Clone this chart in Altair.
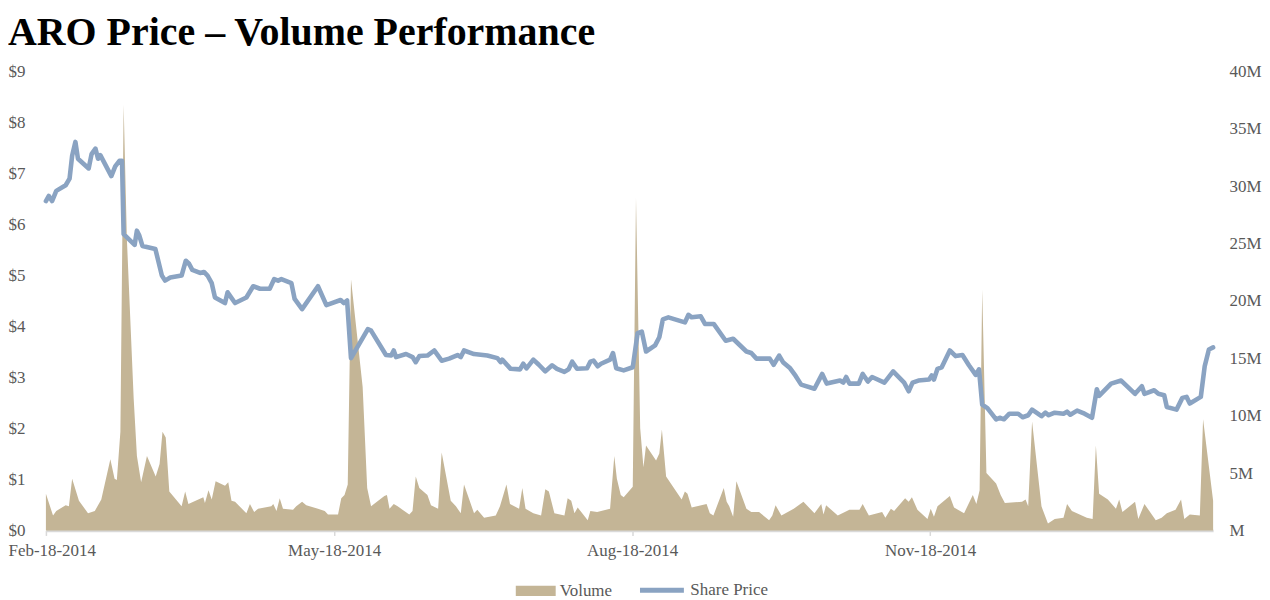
import altair as alt
import pandas as pd

START = "2014-02-18"

# Share price: days after Feb-18-2014, price in $
price_day = [0, 0.9, 1.9, 3.2, 6.1, 7.3, 8.1, 9.1, 9.9, 13.2,
             14.1, 15.3, 16.1, 16.8, 20.2, 21.4, 22.7, 23.5, 24.0, 27.4,
             28.1, 28.8, 29.8, 33.8, 35.8, 36.8, 38.4, 41.9, 43.2, 44.2,
             45.2, 47.6, 48.8, 49.9, 51.2, 52.2, 55.3, 56.1, 58.4, 61.9,
             64.0, 66.1, 69.1, 70.5, 71.7, 72.7, 75.8, 76.8, 79.1, 84.0,
             86.6, 91.0, 92.0, 93.0, 94.2, 99.4, 100.4, 105.0, 106.6, 107.4,
             108.1, 111.2, 113.2, 114.2, 115.3, 117.8, 119.9, 122.2, 124.5, 127.1,
             128.1, 129.1, 132.2, 136.3, 139.4, 140.4, 140.9, 143.5, 146.4, 147.4,
             148.4, 150.5, 152.2, 154.2, 156.3, 157.8, 160.1, 161.4, 162.5, 164.0,
             167.1, 168.1, 169.1, 170.4, 171.4, 174.2, 175.1, 176.1, 178.4, 181.2,
             182.7, 184.0, 185.3, 188.1, 189.4, 190.5, 192.2, 197.3, 198.4, 199.4,
             202.2, 203.5, 206.2, 209.9, 212.2, 216.3, 217.8, 219.4, 223.5, 224.7,
             226.4, 227.6, 229.8, 231.5, 233.2, 237.3, 239.7, 241.1, 245.2, 246.2,
             247.1, 248.1, 251.0, 252.2, 253.8, 255.1, 258.9, 261.6, 265.0, 266.4,
             267.6, 269.4, 272.7, 273.5, 274.2, 275.3, 276.6, 279.1, 280.9, 283.0,
             285.0, 287.1, 288.1, 289.1, 290.7, 293.4, 294.5, 295.8, 297.5, 300.2,
             301.6, 303.3, 304.5, 307.4, 308.6, 309.6, 311.5, 314.2, 315.3, 316.3,
             318.4, 320.7, 323.0, 324.5, 325.2, 328.9, 332.0, 336.3, 338.4, 339.2,
             342.2, 343.5, 345.3, 346.1, 349.1, 350.9, 352.2, 353.2, 356.6, 357.8,
             359.1, 360.4]
price_val = [6.46, 6.56, 6.46, 6.66, 6.77, 6.90, 7.35, 7.62, 7.29, 7.10,
             7.38, 7.49, 7.29, 7.36, 6.95, 7.14, 7.25, 7.25, 5.81, 5.60,
             5.88, 5.79, 5.58, 5.52, 5.00, 4.90, 4.96, 5.00, 5.29, 5.23,
             5.11, 5.05, 5.07, 5.00, 4.85, 4.57, 4.46, 4.67, 4.46, 4.57,
             4.79, 4.74, 4.74, 4.93, 4.90, 4.93, 4.85, 4.54, 4.34, 4.79,
             4.42, 4.52, 4.46, 4.51, 3.38, 3.95, 3.92, 3.44, 3.43, 3.53,
             3.40, 3.46, 3.40, 3.30, 3.42, 3.43, 3.53, 3.33, 3.37, 3.44,
             3.40, 3.53, 3.46, 3.43, 3.38, 3.30, 3.35, 3.17, 3.16, 3.27,
             3.18, 3.35, 3.25, 3.12, 3.24, 3.17, 3.11, 3.16, 3.31, 3.17,
             3.18, 3.31, 3.33, 3.22, 3.27, 3.35, 3.48, 3.18, 3.14, 3.20,
             3.87, 3.90, 3.51, 3.63, 3.79, 4.14, 4.18, 4.08, 4.23, 4.18,
             4.20, 4.05, 4.05, 3.72, 3.76, 3.51, 3.48, 3.37, 3.37, 3.25,
             3.43, 3.30, 3.18, 3.03, 2.86, 2.78, 3.07, 2.88, 2.94, 2.90,
             3.01, 2.88, 2.88, 3.07, 2.92, 3.01, 2.90, 3.12, 2.90, 2.73,
             2.90, 2.94, 2.96, 3.04, 2.96, 3.17, 3.20, 3.53, 3.42, 3.44,
             3.24, 3.05, 3.16, 2.47, 2.40, 2.18, 2.21, 2.18, 2.29, 2.29,
             2.22, 2.26, 2.37, 2.24, 2.31, 2.26, 2.31, 2.29, 2.33, 2.27,
             2.35, 2.29, 2.21, 2.77, 2.64, 2.88, 2.94, 2.68, 2.83, 2.68,
             2.75, 2.68, 2.65, 2.42, 2.37, 2.60, 2.62, 2.49, 2.62, 3.22,
             3.55, 3.59]

# Volume: days after Feb-18-2014, volume in millions of shares
vol_day = [0, 2.2, 3.2, 6.1, 7.1, 8.1, 10.2, 13.0, 15.1, 17.1,
           19.9, 21.2, 21.9, 23.0, 24.0, 25.0, 27.1, 28.1, 29.4, 31.2,
           33.9, 35.1, 36.0, 37.0, 38.1, 41.9, 43.0, 44.0, 48.6, 49.1,
           50.2, 51.2, 52.4, 55.3, 56.3, 57.3, 58.4, 61.9, 63.0, 64.3,
           65.5, 69.6, 70.2, 71.2, 72.2, 73.2, 76.3, 77.3, 79.1, 80.4,
           84.0, 86.1, 87.1, 90.2, 91.2, 92.2, 93.2, 94.2, 97.8, 99.2,
           100.4, 104.5, 105.3, 106.1, 107.4, 108.6, 112.2, 113.2, 114.2, 115.3,
           117.8, 118.9, 121.1, 122.2, 125.0, 126.6, 128.1, 129.1, 132.2, 133.2,
           135.3, 138.9, 140.2, 142.2, 143.3, 146.1, 147.1, 148.1, 150.5, 152.9,
           154.2, 155.3, 157.0, 160.1, 161.1, 162.2, 163.2, 164.2, 167.3, 168.1,
           170.2, 174.2, 175.5, 176.3, 177.5, 178.4, 181.2, 182.2, 183.5, 184.5,
           185.3, 188.4, 189.4, 190.2, 191.5, 196.3, 197.3, 198.1, 199.4, 204.0,
           205.0, 206.1, 209.3, 210.2, 211.0, 212.2, 213.2, 216.3, 217.8, 220.2,
           223.3, 224.3, 225.3, 227.1, 230.9, 233.9, 237.3, 239.4, 240.1, 240.9,
           244.5, 248.1, 251.2, 252.2, 254.1, 258.2, 259.2, 260.9, 261.9, 265.3,
           266.4, 267.4, 269.1, 272.2, 273.2, 274.2, 275.3, 279.1, 280.4, 283.5,
           286.2, 287.3, 288.3, 289.1, 290.4, 293.4, 294.8, 296.1, 301.4, 302.5,
           303.3, 304.5, 307.4, 309.4, 311.5, 314.2, 315.3, 316.8, 321.4, 323.2,
           324.2, 325.2, 327.9, 330.4, 331.4, 332.4, 336.3, 337.3, 339.2, 342.7,
           344.5, 346.1, 348.8, 350.5, 351.5, 353.2, 356.3, 357.3, 360.4]
vol_val = [3.2, 1.3, 1.7, 2.2, 2.1, 4.5, 2.6, 1.5, 1.7, 2.7,
           6.2, 4.5, 4.4, 8.6, 37.1, 25.4, 11.5, 6.5, 4.2, 6.5,
           4.7, 5.8, 8.6, 8.1, 3.4, 2.1, 3.4, 2.3, 2.9, 2.4,
           3.5, 2.7, 4.3, 3.9, 4.2, 2.6, 2.5, 1.5, 2.3, 1.6,
           1.9, 2.1, 2.3, 1.7, 2.8, 1.9, 1.8, 2.1, 2.5, 2.2,
           1.9, 1.7, 1.4, 1.4, 2.8, 3.1, 4.0, 21.9, 12.5, 3.7,
           2.1, 3.0, 3.1, 1.9, 2.3, 2.1, 1.4, 1.7, 4.7, 3.7,
           3.1, 2.2, 1.9, 6.8, 2.6, 2.1, 1.5, 4.0, 1.5, 1.8,
           1.1, 1.3, 2.1, 4.0, 2.3, 1.9, 3.7, 1.9, 1.5, 1.3,
           3.6, 3.4, 1.5, 1.3, 2.8, 2.6, 1.5, 2.0, 0.9, 1.7,
           1.6, 1.9, 6.5, 4.5, 3.1, 2.9, 3.8, 29.0, 8.9, 5.5,
           7.4, 6.1, 6.7, 8.8, 4.7, 2.7, 3.4, 3.2, 2.0, 2.3,
           1.5, 1.3, 3.7, 2.5, 2.1, 1.2, 4.3, 1.9, 1.6, 1.6,
           0.9, 1.3, 2.2, 1.3, 1.9, 2.5, 1.5, 2.3, 1.4, 2.2,
           1.3, 1.8, 1.8, 2.3, 1.3, 1.6, 1.1, 1.9, 1.7, 2.8,
           2.5, 2.9, 1.8, 1.0, 1.9, 1.2, 2.1, 3.0, 2.0, 1.5,
           3.1, 2.3, 3.5, 21.0, 5.0, 4.1, 3.1, 2.4, 2.5, 2.7,
           2.1, 9.5, 2.1, 0.6, 1.0, 1.1, 2.3, 1.7, 1.1, 1.0,
           7.4, 3.2, 2.7, 1.9, 2.7, 1.6, 2.5, 1.0, 2.3, 0.9,
           1.1, 1.5, 1.8, 2.7, 1.0, 1.4, 1.3, 9.7, 2.6]

x_tick_dates = [(2014, 2, 18), (2014, 5, 18), (2014, 8, 18), (2014, 11, 18)]

TAN = "#c4b596"
BLUE = "#8aa3c2"
GREY = "#595959"
FONT = "Liberation Serif"


def to_dates(days):
    ts = pd.Timestamp(START) + pd.to_timedelta(days, unit="D")
    return [t.strftime("%Y-%m-%dT%H:%M:%S") for t in ts]


price_df = pd.DataFrame({"date": to_dates(price_day), "price": price_val,
                         "plab": "Share Price"})
vol_df = pd.DataFrame({"date": to_dates(vol_day), "vol": vol_val,
                       "vlab": "Volume"})

x_enc = alt.X(
    "date:T",
    title=None,
    scale=alt.Scale(nice=False),
    axis=alt.Axis(
        values=[alt.DateTime(year=y, month=m, date=d) for y, m, d in x_tick_dates],
        format="%b-%d-%Y",
        labelFont=FONT, labelFontSize=17, labelColor=GREY,
        domainColor="#d9d9d9", domainWidth=2.5,
        tickColor="#d9d9d9", tickWidth=1.5, tickSize=5,
        labelPadding=7, grid=False,
        labelFlush=1, labelFlushOffset=38,
    ),
)

rect_path = "M-3.706,-0.6L1,-0.6L1,0.6L-3.706,0.6Z"
line_path = "M-4.176,0L1,0"

area = alt.Chart(vol_df).mark_area(color=TAN, opacity=1, interpolate="linear").encode(
    x=x_enc,
    y=alt.Y(
        "vol:Q", title=None,
        scale=alt.Scale(domain=[0, 40], nice=False),
        axis=alt.Axis(
            orient="right", values=list(range(0, 41, 5)),
            labelExpr="datum.value == 0 ? 'M' : datum.value + 'M'",
            labelFont=FONT, labelFontSize=17, labelColor=GREY,
            labelPadding=16, ticks=False, tickSize=0, domain=False, grid=False,
        ),
    ),
    fill=alt.Fill(
        "vlab:N",
        scale=alt.Scale(domain=["Volume"], range=[TAN]),
        legend=alt.Legend(
            title=None, orient="none", legendX=494, legendY=512,
            symbolType=rect_path, symbolSize=289, symbolStrokeWidth=0,
            symbolFillColor=TAN, symbolOpacity=1,
            labelFont=FONT, labelFontSize=17, labelColor=GREY, labelOffset=4,
        ),
    ),
)

line = alt.Chart(price_df).mark_line(
    color=BLUE, strokeWidth=4.6, strokeJoin="round", strokeCap="round"
).encode(
    x=alt.X("date:T"),
    y=alt.Y(
        "price:Q", title=None,
        scale=alt.Scale(domain=[0, 9], nice=False),
        axis=alt.Axis(
            orient="left", values=list(range(0, 10)), format="$,.0f",
            labelFont=FONT, labelFontSize=17, labelColor=GREY,
            labelPadding=21, ticks=False, tickSize=0, domain=False, grid=False,
        ),
    ),
    stroke=alt.Stroke(
        "plab:N",
        scale=alt.Scale(domain=["Share Price"], range=[BLUE]),
        legend=alt.Legend(
            title=None, orient="none", legendX=620, legendY=509,
            symbolType=line_path, symbolSize=289, symbolStrokeWidth=5,
            labelFont=FONT, labelFontSize=17, labelColor=GREY, labelOffset=4,
        ),
    ),
)

chart = alt.layer(area, line).resolve_scale(
    y="independent", fill="independent", stroke="independent"
).properties(
    width=1170,
    height=460,
    padding={"left": 0, "top": 4, "right": 0, "bottom": 0},
    title=alt.TitleParams(
        "ARO Price – Volume Performance", anchor="start", fontSize=40,
        font=FONT, fontWeight="bold", color="black", offset=10,
    ),
).configure_view(stroke=None)

chart.save("out.html", embed_options={"renderer": "svg", "actions": False})
